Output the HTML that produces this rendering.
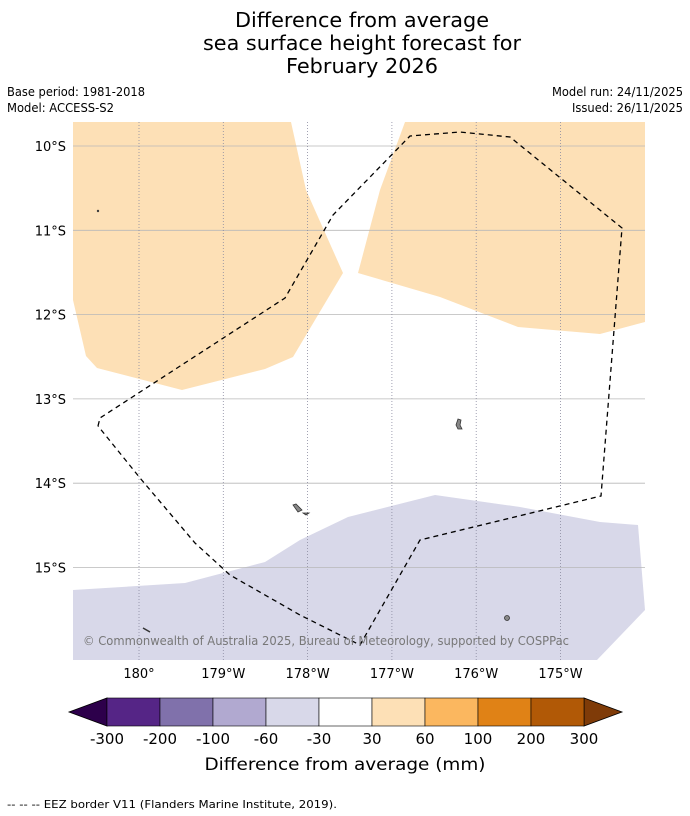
<!DOCTYPE html>
<html><head><meta charset="utf-8"><style>
html,body{margin:0;padding:0;background:#fff;width:690px;height:816px;overflow:hidden}
svg text{font-family:"DejaVu Sans","Liberation Sans",sans-serif}
</style></head><body>
<svg id="chart" width="690" height="816" viewBox="0 0 690 816" xmlns="http://www.w3.org/2000/svg">
<g font-size="20" text-anchor="middle" fill="#000">
<text x="362" y="27" textLength="254" lengthAdjust="spacingAndGlyphs">Difference from average</text>
<text x="362" y="50" textLength="318" lengthAdjust="spacingAndGlyphs">sea surface height forecast for</text>
<text x="362" y="73" textLength="152" lengthAdjust="spacingAndGlyphs">February 2026</text>
</g>
<g font-size="12" fill="#000">
<text x="7" y="96" textLength="138" lengthAdjust="spacingAndGlyphs">Base period: 1981-2018</text>
<text x="7" y="112" textLength="107" lengthAdjust="spacingAndGlyphs">Model: ACCESS-S2</text>
<text x="683" y="96" text-anchor="end" textLength="131" lengthAdjust="spacingAndGlyphs">Model run: 24/11/2025</text>
<text x="683" y="112" text-anchor="end" textLength="111" lengthAdjust="spacingAndGlyphs">Issued: 26/11/2025</text>
</g>
<defs><clipPath id="mapclip"><rect x="73" y="122" width="572" height="538"/></clipPath></defs>
<g id="map" clip-path="url(#mapclip)">
<rect x="73" y="122" width="572" height="538" fill="#fff"/>
<polygon fill="#fde0b6" points="73,122 291,122 306,190 343,273 293,357 265,369 182,390 97,368 86,356 73,300"/>
<polygon fill="#fde0b6" points="405,122 645,122 645,322 600,334 518,327 440,297 358,273 380,190"/>
<polygon fill="#d8d8e9" points="73,590 185,583 265,562 300,540 348,517 435,495 520,507 600,522 638,525 645,610 597,660 73,660"/>
<g id="grid"></g>
<g fill="#888" stroke="#333" stroke-width="0.8">
<path d="M458,419 L461,420 L460,425 L462,429 L458,429 L456,425 Z"/>
<path d="M293,505 L296,504 L302,510 L298,512 Z"/>
<path d="M303,513 L309,513 L306,515 Z"/>
<circle cx="507" cy="618" r="2.5"/>
<path d="M143,628 L150,632" stroke-width="1.5"/>
<circle cx="98" cy="211" r="0.8"/>
</g>
<polyline fill="none" stroke="#000" stroke-width="1.3" stroke-dasharray="5,4" points="98,426 100,418 285,298 333,215 410,136 460,132 510,137 622,228 601,496 420,540 360,645 350,640 300,615 230,575 195,543 140,478 98,426"/>
<text x="83" y="645" font-size="12" fill="#777" textLength="486" lengthAdjust="spacingAndGlyphs">© Commonwealth of Australia 2025, Bureau of Meteorology, supported by COSPPac</text>
</g>
<g id="axes" font-size="13" fill="#000"></g>
<g id="colorbar"></g>
<text x="345" y="770" font-size="17" text-anchor="middle" textLength="281" lengthAdjust="spacingAndGlyphs">Difference from average (mm)</text>
<text x="7" y="808" font-size="11" textLength="330" lengthAdjust="spacingAndGlyphs">--  --  -- EEZ border V11 (Flanders Marine Institute, 2019).</text>
</svg>
<script>
const lonTicks=[180,179,178,177,176,175];
const lonLabels=["180°","179°W","178°W","177°W","176°W","175°W"];
const latTicks=[10,11,12,13,14,15];
const latLabels=["10°S","11°S","12°S","13°S","14°S","15°S"];
const cbBounds=["-300","-200","-100","-60","-30","30","60","100","200","300"];
const cbColors=["#552586","#8071ab","#b1a9d0","#d8d8e9","#ffffff","#fde0b6","#fbb75f","#e08216","#b15906"];
const cbUnder="#2d004b", cbOver="#7f3b08";
const NS="http://www.w3.org/2000/svg";
const xOf=lon=>139+(180-lon)*84.3;
const yOf=lat=>146+(lat-10)*84.3;
function mk(tag,attrs,parent){const e=document.createElementNS(NS,tag);for(const k in attrs)e.setAttribute(k,attrs[k]);parent.appendChild(e);return e;}
const grid=document.getElementById('grid'),axes=document.getElementById('axes'),cb=document.getElementById('colorbar');
latTicks.forEach((v,i)=>{const y=yOf(v);
 const l=mk('line',{x1:73,x2:645,y1:y,y2:y,stroke:'#b8b8b8','stroke-width':0.8},grid);
 
 
 const t=mk('text',{x:66,y:y+5,'text-anchor':'end'},axes);t.textContent=latLabels[i];
 
 
});
lonTicks.forEach((v,i)=>{const x=xOf(v);
 const l=mk('line',{x1:x,x2:x,y1:122,y2:660,stroke:'#8a8aa0','stroke-width':0.8,'stroke-dasharray':'1,2'},grid);
 
 
 const t=mk('text',{x:x,y:678,'text-anchor':'middle'},axes);t.textContent=lonLabels[i];
 
 
});
const cx0=107,cw=53,cy=698,ch=28,n=cbColors.length;
const under=mk('polygon',{points:`${cx0},${cy} ${cx0},${cy+ch} 69,${cy+ch/2}`,fill:cbUnder,stroke:'#000','stroke-width':0.8},cb);


const ex=cx0+n*cw;
const over=mk('polygon',{points:`${ex},${cy} ${ex},${cy+ch} ${ex+38},${cy+ch/2}`,fill:cbOver,stroke:'#000','stroke-width':0.8},cb);


cbColors.forEach((c,i)=>{const r=mk('rect',{x:cx0+i*cw,y:cy,width:cw,height:ch,fill:c,stroke:'#000','stroke-width':0.6},cb);
 
 });
cbBounds.forEach((b,i)=>{const t=mk('text',{x:cx0+i*cw,y:744,'text-anchor':'middle','font-size':15},cb);t.textContent=b;
 
 });
</script>
</body></html>
